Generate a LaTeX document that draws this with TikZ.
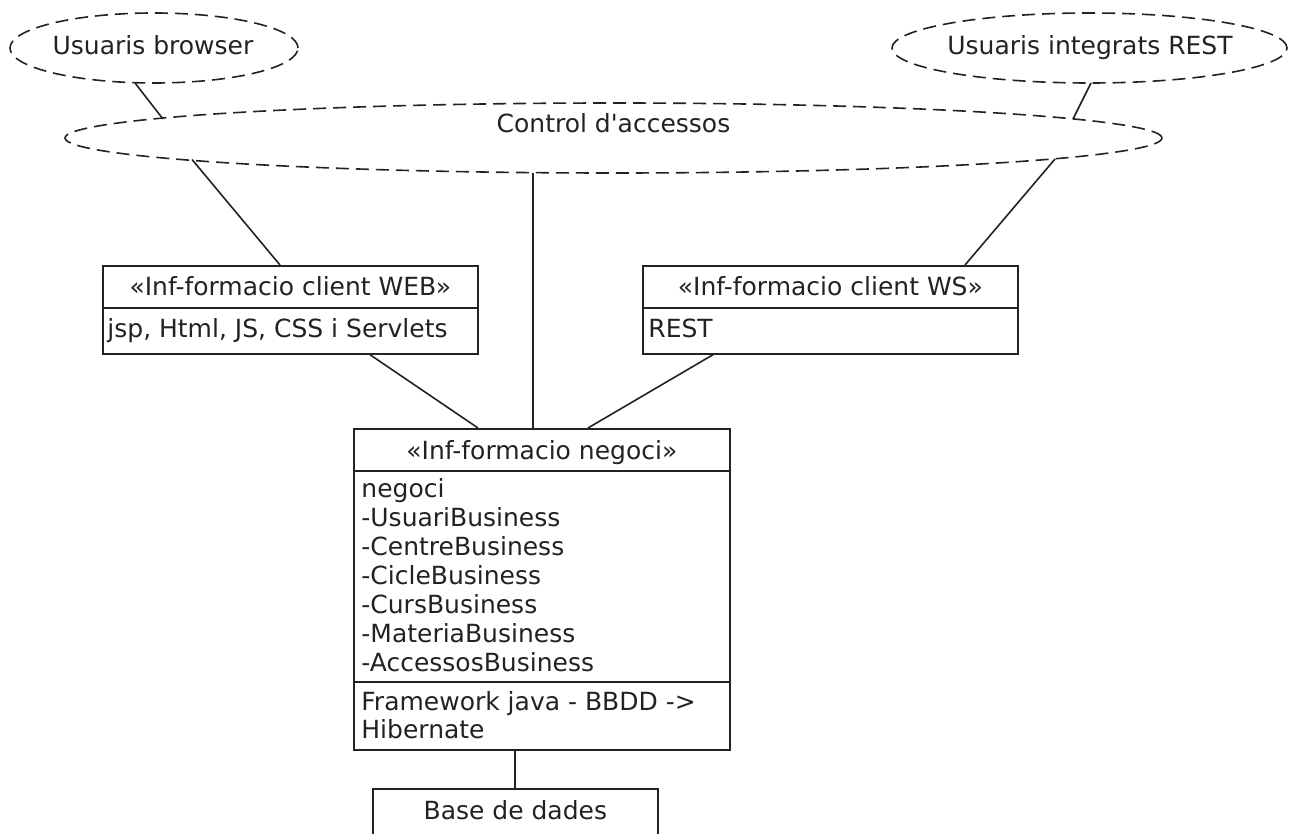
\documentclass[tikz,border=0pt]{standalone}
\usepackage{fontspec}
\setmainfont{DejaVu Sans}
\usetikzlibrary{shapes.geometric,calc}
\definecolor{ink}{HTML}{222222}
\begin{document}
\begin{tikzpicture}[x=0.5pt,y=-0.5pt,
  font=\fontsize{12.5}{14.5}\selectfont,
  usecase/.style={ellipse,draw=ink,dash pattern=on 6.5pt off 3.5pt,line width=0.8pt,inner sep=0pt},
  umlbox/.style={rectangle,draw=ink,line width=0.85pt,inner sep=0pt,anchor=north west},
  link/.style={draw=ink,line width=0.8pt},
  lbl/.style={inner sep=0pt,anchor=base,text=ink},
  item/.style={inner sep=0pt,anchor=base west,text=ink}]
\useasboundingbox (0,0) rectangle (1295,834);
\clip (0,0) rectangle (1295,834);

% actors and access control
\node[usecase,minimum width=144pt,minimum height=35pt] (ub) at (154,48) {};
\node[lbl] (ubt) at (153,55) {Usuaris browser};
\node[usecase,minimum width=197.5pt,minimum height=35pt] (rest) at (1089.5,48) {};
\node[lbl] (restt) at (1090,55) {Usuaris integrats REST};
\node[usecase,minimum width=548.5pt,minimum height=35pt] (ca) at (613.5,138) {};
\node[lbl] (cat) at (613.5,133) {Control d\textquotesingle accessos};

% client layers
\node[umlbox,minimum width=187.5pt,minimum height=44pt] (web) at (102,265) {};
\draw[link] ($(web.north west)+(0,43)$) -- ($(web.north east)+(0,43)$);
\node[lbl] (webh) at ($(web.north)+(0,30)$) {«Inf-formacio client WEB»};
\node[item] (webb) at ($(web.north west)+(5,72)$) {jsp, Html, JS, CSS i Servlets};

\node[umlbox,minimum width=187.5pt,minimum height=44pt] (ws) at (642,265) {};
\draw[link] ($(ws.north west)+(0,43)$) -- ($(ws.north east)+(0,43)$);
\node[lbl] (wsh) at ($(ws.north)+(0,30)$) {«Inf-formacio client WS»};
\node[item] (wsb) at ($(ws.north west)+(6,72)$) {REST};

% business layer
\node[umlbox,minimum width=188pt,minimum height=160.5pt] (neg) at (353,428) {};
\draw[link] ($(neg.north west)+(0,43)$) -- ($(neg.north east)+(0,43)$);
\draw[link] ($(neg.north west)+(0,254)$) -- ($(neg.north east)+(0,254)$);
\node[lbl] (negh) at ($(neg.north)+(0,31)$) {«Inf-formacio negoci»};
\node[item] (n1) at ($(neg.north west)+(8,69)$) {negoci};
\node[item] (n2) at ($(neg.north west)+(8,98)$) {-UsuariBusiness};
\node[item] (n3) at ($(neg.north west)+(8,127)$) {-CentreBusiness};
\node[item] (n4) at ($(neg.north west)+(8,156)$) {-CicleBusiness};
\node[item] (n5) at ($(neg.north west)+(8,185)$) {-CursBusiness};
\node[item] (n6) at ($(neg.north west)+(8,214)$) {-MateriaBusiness};
\node[item] (n7) at ($(neg.north west)+(8,243)$) {-AccessosBusiness};
\node[item] (f1) at ($(neg.north west)+(8,282)$) {Framework java - BBDD ->};
\node[item] (f2) at ($(neg.north west)+(8,310)$) {Hibernate};

% database
\node[umlbox,minimum width=142.5pt,minimum height=50pt] (base) at (372,788) {};
\node[lbl] (baset) at ($(base.north)+(0,31)$) {Base de dades};

% connectors, ending on the ellipse outlines
\draw[link] ($(ub.center)+(-19,35)$) -- ($(ca.center)+(-450.5,-19)$);
\draw[link] ($(rest.center)+(1.5,35)$) -- ($(ca.center)+(459.5,-19)$);
\draw[link] ($(ca.center)+(-421.5,21.5)$) -- ($(web.north west)+(178,0)$);
\draw[link] ($(ca.center)+(441.5,21)$) -- ($(ws.north west)+(323,0)$);
\coordinate (cb) at ($(ca.center)+(-80.5,35)$);
\draw[link] (cb) -- (cb |- neg.north);
\draw[link] ($(web.south west)+(268,0)$) -- ($(neg.north west)+(125,0)$);
\draw[link] ($(ws.south west)+(71,0)$) -- ($(neg.north west)+(235,0)$);
\coordinate (nb) at ($(neg.south west)+(162,0)$);
\draw[link] (nb) -- (nb |- base.north);
\end{tikzpicture}
\end{document}
